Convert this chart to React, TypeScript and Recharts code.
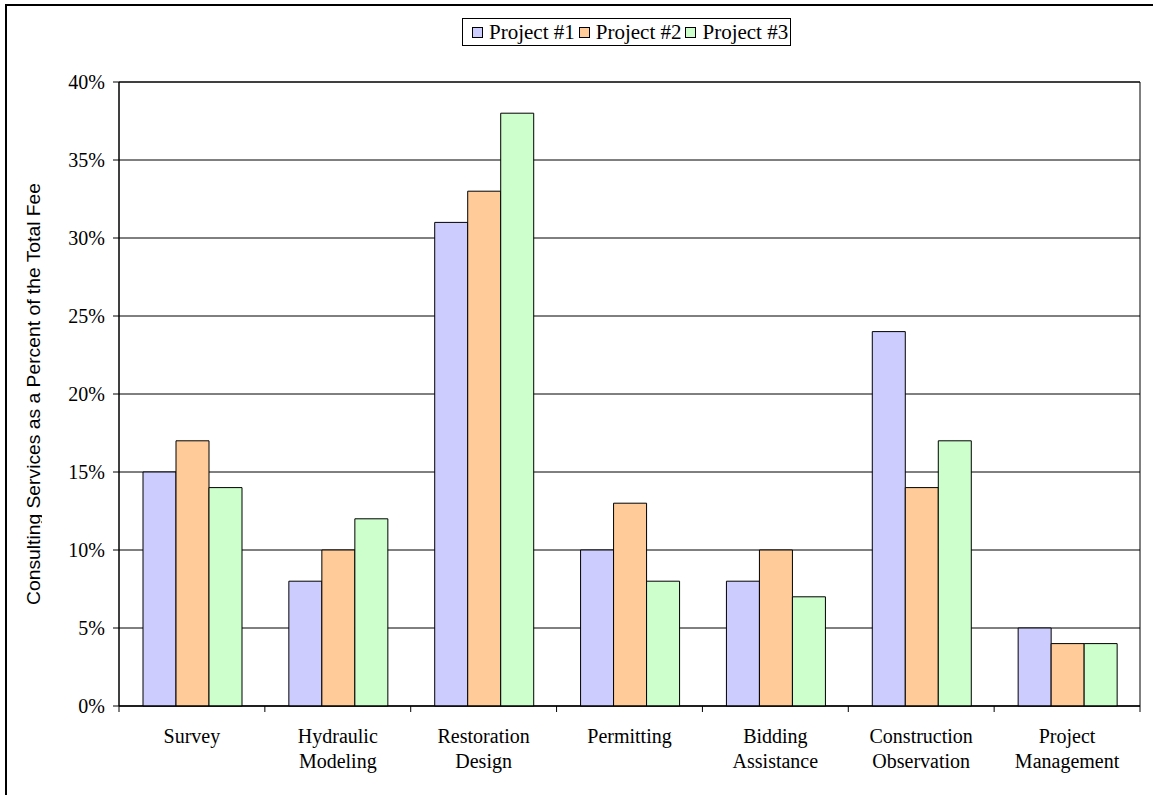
import { BarChart, Bar, XAxis, YAxis, CartesianGrid, Legend, ReferenceArea } from 'recharts';

const categories = [
    ['Survey'],
    ['Hydraulic', 'Modeling'],
    ['Restoration', 'Design'],
    ['Permitting'],
    ['Bidding', 'Assistance'],
    ['Construction', 'Observation'],
    ['Project', 'Management'],
];
const project1 = [15, 8, 31, 10, 8, 24, 5];
const project2 = [17, 10, 33, 13, 10, 14, 4];
const project3 = [14, 12, 38, 8, 7, 17, 4];
const yTicks = [0, 5, 10, 15, 20, 25, 30, 35, 40];

const seriesNames = ['Project #1', 'Project #2', 'Project #3'];
const seriesColors = ['#CCCCFF', '#FFCC99', '#CCFFCC'];

const data = categories.map((lines, i) => ({
    name: lines.join(' '),
    lines,
    'Project #1': project1[i],
    'Project #2': project2[i],
    'Project #3': project3[i],
}));

const W = 1153;
const H = 795;
const PLOT_LEFT = 119;
const PLOT_RIGHT = 1140;
const PLOT_TOP = 82;
const PLOT_BOTTOM = 706;
const BAND = (PLOT_RIGHT - PLOT_LEFT) / categories.length;
const SERIF = '"Liberation Serif", "Times New Roman", serif';

function CategoryTick({ x, y, payload, index }: any) {
    const lines = categories[index] || [payload.value];
    const left = x - BAND / 2;
    const right = x + BAND / 2;
    return (
        <g>
            <line x1={left} x2={left} y1={y} y2={y + 6} stroke="#000" />
            {index === categories.length - 1 && <line x1={right} x2={right} y1={y} y2={y + 6} stroke="#000" />}
            <text x={x} y={y + 37} textAnchor="middle" fill="#000" fontFamily={SERIF} fontSize={20}>
                {lines.map((l: string, i: number) => (
                    <tspan key={i} x={x} dy={i === 0 ? 0 : 25}>{l}</tspan>
                ))}
            </text>
        </g>
    );
}

function LegendBox() {
    return (
        <div
            style={{
                display: 'flex',
                alignItems: 'center',
                border: '1px solid #000',
                background: '#fff',
                padding: '0 2px 0 9px',
                height: 26,
                fontFamily: SERIF,
                fontSize: 21,
                color: '#000',
                whiteSpace: 'nowrap',
            }}
        >
            {seriesNames.map((n, i) => (
                <span key={n} style={{ display: 'flex', alignItems: 'center' }}>
                    <span
                        style={{
                            display: 'inline-block',
                            width: 9,
                            height: 9,
                            background: seriesColors[i],
                            border: '1px solid #000',
                            marginRight: 6,
                            marginLeft: i === 0 ? 0 : 4,
                        }}
                    />
                    {n}
                </span>
            ))}
        </div>
    );
}

export default function App() {
    const cy = (PLOT_TOP + PLOT_BOTTOM) / 2;
    return (
        <div style={{ position: 'absolute', left: 0, top: 0, width: W, height: H, overflow: 'hidden', background: '#fff' }}>
            <BarChart
                width={W}
                height={H}
                data={data}
                margin={{ top: PLOT_TOP, right: W - PLOT_RIGHT, left: 0, bottom: H - PLOT_BOTTOM - 30 }}
                barCategoryGap={24}
                barGap={0}
            >
                <CartesianGrid vertical={false} stroke="#000" />
                <XAxis
                    dataKey="name"
                    interval={0}
                    height={30}
                    tickSize={0}
                    tickMargin={0}
                    tickLine={false}
                    axisLine={{ stroke: '#000' }}
                    tick={<CategoryTick />}
                />
                <YAxis
                    width={PLOT_LEFT}
                    domain={[0, 40]}
                    ticks={yTicks}
                    interval={0}
                    tickSize={6}
                    tickMargin={8}
                    axisLine={{ stroke: '#000' }}
                    tickLine={{ stroke: '#000' }}
                    tick={{ fill: '#000', fontFamily: SERIF, fontSize: 20 }}
                    tickFormatter={(v: number) => `${v}%`}
                />
                <ReferenceArea y1={0} y2={40} fill="none" stroke="#000" ifOverflow="visible" />
                <Legend
                    layout="horizontal"
                    verticalAlign="middle"
                    align="center"
                    content={<LegendBox />}
                    wrapperStyle={{ left: 462, top: 18, width: 'auto', height: 'auto' }}
                />
                {seriesNames.map((n, i) => (
                    <Bar key={n} dataKey={n} fill={seriesColors[i]} stroke="#000" strokeWidth={1} isAnimationActive={false} />
                ))}
            </BarChart>
            <svg width={W} height={H} style={{ position: 'absolute', left: 0, top: 0, pointerEvents: 'none' }}>
                <defs>
                    <clipPath id="ytitle-clip">
                        <rect x={0} y={0} width={42} height={H} />
                    </clipPath>
                </defs>
                <rect x={6} y={5} width={W + 20} height={H + 20} fill="none" stroke="#000" strokeWidth={2} />
                <g clipPath="url(#ytitle-clip)">
                    <text
                        x={40}
                        y={cy}
                        transform={`rotate(-90 40 ${cy})`}
                        textAnchor="middle"
                        fill="#000"
                        fontFamily='"Liberation Sans", Arial, sans-serif'
                        fontSize={19}
                        textLength={422}
                        lengthAdjust="spacingAndGlyphs"
                    >
                        Consulting Services as a Percent of the Total Fee
                    </text>
                </g>
            </svg>
        </div>
    );
}
